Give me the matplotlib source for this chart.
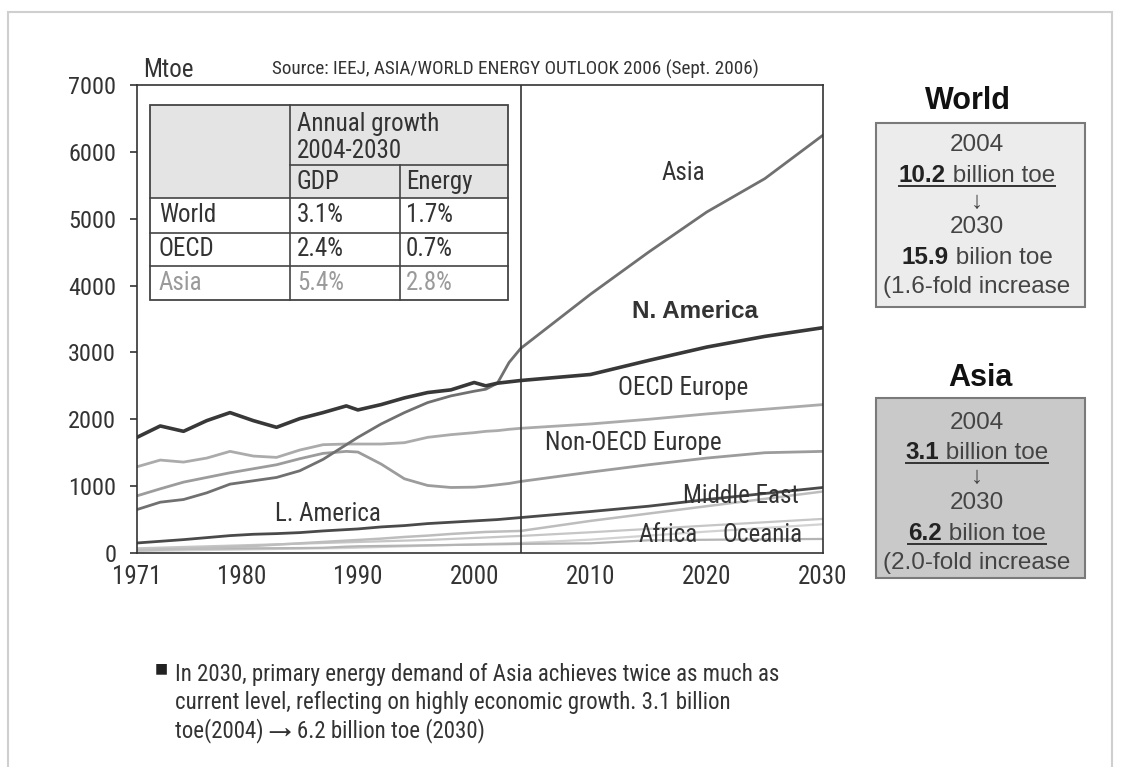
import matplotlib
matplotlib.use('Agg')
import matplotlib.pyplot as plt
from matplotlib.patches import Rectangle
from matplotlib.lines import Line2D

plt.rcParams['font.family'] = ['Roboto Condensed', 'Archivo Narrow', 'Liberation Sans', 'DejaVu Sans']

W, H = 1126, 767

# data (Mtoe)
hist_years = [1971, 1973, 1975, 1977, 1979, 1981, 1983, 1985, 1987, 1989,
              1990, 1992, 1994, 1996, 1998, 2000, 2001, 2002, 2003, 2004]
proj_years = [2010, 2015, 2020, 2025, 2030]
years = hist_years + proj_years

n_america = [1730, 1900, 1820, 1980, 2100, 1980, 1880, 2010, 2100, 2200,
             2140, 2220, 2320, 2400, 2440, 2550, 2500, 2540, 2560, 2580,
             2670, 2880, 3080, 3240, 3370]
asia = [650, 760, 800, 900, 1030, 1080, 1130, 1230, 1400, 1620,
        1730, 1930, 2100, 2250, 2350, 2420, 2450, 2540, 2850, 3060,
        3870, 4500, 5100, 5600, 6250]
oecd_europe = [1290, 1390, 1360, 1420, 1520, 1450, 1430, 1540, 1620, 1630,
               1630, 1630, 1650, 1730, 1770, 1800, 1820, 1830, 1850, 1865,
               1930, 2000, 2080, 2150, 2220]
non_oecd_europe = [855, 960, 1060, 1130, 1200, 1260, 1320, 1410, 1490, 1520,
                   1510, 1330, 1110, 1010, 980, 985, 1000, 1020, 1040, 1070,
                   1210, 1320, 1420, 1500, 1520]
l_america = [150, 175, 200, 230, 260, 280, 290, 305, 330, 350,
             360, 390, 410, 440, 460, 480, 490, 500, 515, 530,
             620, 700, 800, 890, 980]
middle_east = [40, 50, 60, 75, 90, 105, 125, 145, 165, 185,
               195, 215, 240, 260, 285, 305, 315, 320, 325, 330,
               480, 590, 700, 810, 920]
africa = [70, 80, 90, 100, 110, 120, 130, 140, 150, 160,
          165, 175, 185, 195, 210, 225, 232, 240, 248, 255,
          310, 360, 410, 460, 510]
other = [30, 35, 40, 45, 50, 55, 60, 65, 70, 75,
         80, 90, 100, 110, 120, 130, 135, 140, 145, 150,
         200, 260, 320, 375, 430]  # unlabelled line in the original
oceania = [60, 62, 64, 66, 68, 70, 72, 74, 78, 95,
           100, 105, 110, 115, 120, 125, 128, 130, 133, 136,
           145, 190, 198, 205, 210]

growth_rows = ['World', 'OECD', 'Asia']
growth_gdp = ['3.1%', '2.4%', '5.4%']
growth_energy = ['1.7%', '0.7%', '2.8%']

x_ticks = [1971, 1980, 1990, 2000, 2010, 2020, 2030]
y_ticks = [0, 1000, 2000, 3000, 4000, 5000, 6000, 7000]


def fx(px):
    return px / W


def fy(py):
    return 1 - py / H


fig = plt.figure(figsize=(W / 100, H / 100), dpi=100)
fig.patch.set_facecolor('white')

# page border of the screenshot
fig.add_artist(Rectangle((fx(8), fy(780)), fx(1104), 768 / H, transform=fig.transFigure,
                         fill=False, edgecolor='#cfcfcf', lw=1.5))

ax = fig.add_axes([fx(137), fy(553), fx(686), 468 / H])

series = [
    (other, '#d2d2d2', 1.6),
    (oceania, '#b4b4b4', 1.6),
    (africa, '#c6c6c6', 1.6),
    (middle_east, '#bdbdbd', 1.8),
    (l_america, '#4a4a4a', 2.0),
    (non_oecd_europe, '#9c9c9c', 2.0),
    (oecd_europe, '#ababab', 2.0),
    (asia, '#707070', 2.0),
    (n_america, '#383838', 2.6),
]
for vals, col, lw in series:
    ax.plot(years, vals, color=col, lw=lw, solid_capstyle='round')

ax.axvline(2004, color='#333333', lw=1.2)
ax.set_xlim(1971, 2030)
ax.set_ylim(0, 7000)
ax.set_xticks(x_ticks)
ax.set_yticks(y_ticks)
ax.tick_params(axis='x', length=0, pad=9, labelsize=18, labelcolor='#333333')
ax.tick_params(axis='y', length=5, width=1.2, direction='out', pad=10, labelsize=17.5,
               labelcolor='#333333', color='#333333')
for sp in ax.spines.values():
    sp.set_color('#333333')
    sp.set_linewidth(1.2)

side_font = ['Liberation Sans', 'DejaVu Sans']

lab = dict(fontsize=18, color='#333333', ha='center', va='center')
ax.text(2018.0, 5680, 'Asia', **lab)
ax.text(2019.0, 3610, 'N. America', fontsize=17.5, fontweight='bold', family=side_font,
        color='#333333', ha='center', va='center')
ax.text(2018.0, 2470, 'OECD Europe', **lab)
ax.text(2013.7, 1650, 'Non-OECD Europe', **lab)
ax.text(2022.9, 855, 'Middle East', **lab)
ax.text(1987.4, 585, 'L. America', **lab)
ax.text(2016.7, 270, 'Africa', **lab)
ax.text(2024.8, 270, 'Oceania', **lab)

fig.text(fx(168), fy(70), 'Mtoe', fontsize=18, color='#333333', ha='center', va='center')
fig.text(fx(515), fy(69), 'Source: IEEJ, ASIA/WORLD ENERGY OUTLOOK 2006 (Sept. 2006)',
         fontsize=13.8, color='#333333', ha='center', va='center')

# growth table
ty = [105, 165, 198, 233, 266, 300]
grey = '#e4e4e4'
for (x0, y0, x1, y1) in [(150, 105, 290, 198), (290, 105, 508, 165),
                         (290, 165, 400, 198), (400, 165, 508, 198)]:
    fig.add_artist(Rectangle((fx(x0), fy(y1)), fx(x1 - x0), (y1 - y0) / H,
                             transform=fig.transFigure, facecolor=grey, edgecolor='none', zorder=3))
fig.add_artist(Rectangle((fx(150), fy(300)), fx(358), 195 / H, transform=fig.transFigure,
                         fill=False, edgecolor='#444444', lw=1.3, zorder=4))
tl = dict(transform=fig.transFigure, color='#444444', lw=1.2, zorder=4)
fig.add_artist(Line2D([fx(290), fx(290)], [fy(105), fy(300)], **tl))
fig.add_artist(Line2D([fx(400), fx(400)], [fy(165), fy(300)], **tl))
fig.add_artist(Line2D([fx(290), fx(508)], [fy(165), fy(165)], **tl))
for yy in ty[2:5]:
    fig.add_artist(Line2D([fx(150), fx(508)], [fy(yy), fy(yy)], **tl))

tt = dict(fontsize=18, va='center', ha='left', zorder=5)
fig.text(fx(297), fy(124), 'Annual growth', color='#333333', **tt)
fig.text(fx(297), fy(151), '2004-2030', color='#333333', **tt)
fig.text(fx(297), fy(182), 'GDP', color='#333333', **tt)
fig.text(fx(406), fy(182), 'Energy', color='#333333', **tt)
for i, name in enumerate(growth_rows):
    yc = (ty[i + 2] + ty[i + 3]) / 2
    col = '#9a9a9a' if name == 'Asia' else '#333333'
    fig.text(fx(159), fy(yc), name, color=col, **tt)
    fig.text(fx(297), fy(yc), growth_gdp[i], color=col, **tt)
    fig.text(fx(406), fy(yc), growth_energy[i], color=col, **tt)

# side boxes
side_fs = 17.5
fig.canvas.draw()
renderer = fig.canvas.get_renderer()


def mixed_line(xc, py, bold, rest, underline=False):
    base = py + 7
    t1 = fig.text(0, fy(base), bold, fontsize=side_fs, fontweight='bold', family=side_font,
                  color='#222222', ha='left', va='baseline')
    t2 = fig.text(0, fy(base), rest, fontsize=side_fs, family=side_font,
                  color='#444444', ha='left', va='baseline')
    w1 = t1.get_window_extent(renderer).width
    w2 = t2.get_window_extent(renderer).width
    x0 = xc - (w1 + w2) / 2
    t1.set_x(fx(x0))
    t2.set_x(fx(x0 + w1))
    if underline:
        fig.add_artist(Line2D([fx(x0), fx(x0 + w1 + w2)], [fy(base + 4), fy(base + 4)],
                              transform=fig.transFigure, color='#333333', lw=1.4))


def side_box(title, tx0, ty0, y0, y1, fill, lines):
    fig.text(fx(tx0), fy(ty0), title, fontsize=22, fontweight='bold', family=side_font,
             color='#111111', ha='center', va='center')
    fig.add_artist(Rectangle((fx(876), fy(y1)), fx(209), (y1 - y0) / H,
                             transform=fig.transFigure, facecolor=fill, edgecolor='#7a7a7a', lw=1.5))
    for kind, py, a, b, ul in lines:
        if kind == 'plain':
            fig.text(fx(977), fy(py), a, fontsize=side_fs, family=side_font, color='#444444',
                     ha='center', va='center')
        else:
            mixed_line(977, py, a, b, ul)


side_box('World', 968, 101, 123, 307, '#ececec', [
    ('plain', 145, '2004', None, False),
    ('mixed', 175, '10.2', ' billion toe', True),
    ('plain', 202, '\u2193', None, False),
    ('plain', 227, '2030', None, False),
    ('mixed', 257, '15.9', ' bilion toe', False),
    ('plain', 287, '(1.6-fold increase', None, False),
])
side_box('Asia', 980, 378, 398, 578, '#c9c9c9', [
    ('plain', 423, '2004', None, False),
    ('mixed', 452, '3.1', ' billion toe', True),
    ('plain', 477, '\u2193', None, False),
    ('plain', 503, '2030', None, False),
    ('mixed', 533, '6.2', ' bilion toe', True),
    ('plain', 563, '(2.0-fold increase', None, False),
])

# note below the chart
fig.text(fx(155), fy(668), '\u25a0', fontsize=10, color='#222222', ha='left', va='center',
         family=['DejaVu Sans'])
note = ['In 2030, primary energy demand of Asia achieves twice as much as',
        'current level, reflecting on highly economic growth. 3.1 billion',
        'toe(2004) \u2192 6.2 billion toe (2030)']
for i, line in enumerate(note):
    fig.text(fx(175), fy(675 + 28 * i), line, fontsize=16.5, color='#333333', ha='left',
             va='center')

fig.savefig('out.png', dpi=100)
